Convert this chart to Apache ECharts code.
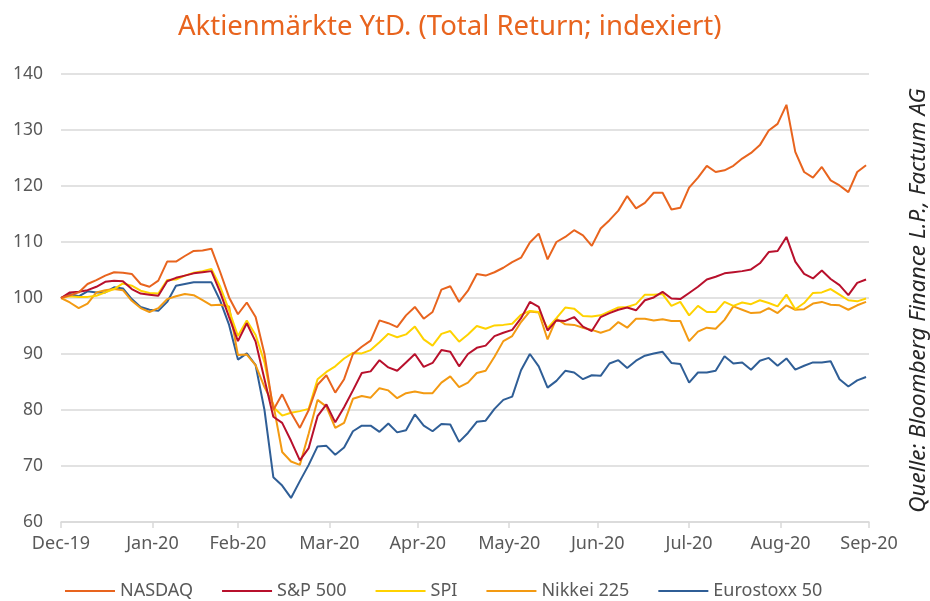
<!DOCTYPE html>
<html>
<head>
<meta charset="utf-8">
<script src="https://cdn.jsdelivr.net/npm/echarts@6/dist/echarts.min.js"></script>
<style>
html,body{margin:0;padding:0;background:#fff;}
#main{width:930px;height:601px;}
</style>
</head>
<body>
<div id="main"></div>
<script>
// x = days after 31 Dec 2019, one reading every 3 days
var monthLabels = ['Dec-19','Jan-20','Feb-20','Mar-20','Apr-20','May-20','Jun-20','Jul-20','Aug-20','Sep-20'];
var monthEndDays = [0, 31, 60, 91, 121, 152, 182, 213, 244, 274];
var stepDays = 3;

var nasdaq = [100,100.5,101,102.5,103.2,104,104.6,104.5,104.3,102.5,102,103.1,106.5,106.5,107.5,108.4,108.5,108.8,104.6,100.1,
  97.1,99.2,96.6,90,80,82.8,79.5,76.8,80,84.5,86.2,83.1,85.5,90,91.3,92.4,96,95.5,94.8,96.9,
  98.4,96.3,97.5,101.5,102.1,99.3,101.3,104.3,104,104.6,105.4,106.4,107.2,109.9,111.5,106.9,110,110.9,112.1,111.2,
  109.3,112.4,113.9,115.6,118.2,116,117,118.8,118.8,115.8,116.1,119.7,121.5,123.6,122.5,122.8,123.6,124.9,125.9,127.3,
  129.9,131.1,134.5,126.1,122.5,121.5,123.4,121,120.1,118.9,122.5,123.7];

var sp500 = [100,101,101.1,101.4,102,102.9,103.1,103,101.6,100.8,100.6,100.4,103,103.6,104,104.4,104.6,104.8,101,96.6,
  92.3,95.5,92.2,85.5,78.8,77.7,74.5,71,73.2,78.9,81,77.8,80.5,83.5,86.6,86.9,88.9,87.6,87,88.5,
  90,87.7,88.4,90.7,90.4,87.8,90,91.1,91.5,93.2,93.8,94.3,96.4,99.3,98.4,94.2,96,95.9,96.6,94.9,
  94.1,96.6,97.3,97.9,98.3,97.8,99.6,100.1,101.1,99.9,99.8,100.9,102,103.3,103.8,104.4,104.6,104.8,105.1,106.2,
  108.2,108.4,110.9,106.5,104.3,103.5,104.9,103.4,102.3,100.5,102.7,103.3];

var spi = [100,100.3,100.2,100.2,100.4,101,101.6,102.6,102.2,101.3,100.9,100.8,103.2,103.3,104,104.5,104.8,105.2,102,97.8,
  93.2,96,93.4,88.5,80.5,79,79.5,79.8,80.2,85.5,86.8,87.8,89.2,90.2,90.1,90.7,92.1,93.6,93,93.5,
  94.9,92.6,91.5,93.6,94.1,92.2,93.5,95,94.5,95.1,95.2,95.4,97,97.7,97.5,94.6,96.4,98.3,98.1,96.8,
  96.7,96.9,97.6,98.3,98.4,98.9,100.6,100.6,100.7,98.6,99.3,96.9,98.6,97.5,97.5,99.3,98.6,99.2,98.9,99.6,
  99.1,98.5,100.6,98,99.1,100.9,101,101.6,100.6,99.6,99.4,99.9];

var nikkei = [100,99.2,98.2,99,101,101.4,101.6,101.4,99.5,98.2,97.5,98.2,99.8,100.3,100.7,100.5,99.6,98.7,98.8,98.5,
  89.8,89.9,88,84.1,81,72.5,70.8,70.2,75.8,81.8,80.6,76.8,77.7,82,82.5,82.2,83.9,83.5,82.1,83,
  83.3,83,83,84.9,86,84.1,84.9,86.6,87,89.5,92.3,93.2,95.7,97.6,97.4,92.6,96.3,95.3,95.2,94.7,
  94.3,93.8,94.3,95.7,94.7,96.3,96.3,96,96.2,95.9,95.9,92.3,94,94.7,94.5,96.1,98.5,97.9,97.3,97.4,
  98.2,97.3,98.7,97.9,98,99,99.3,98.8,98.7,97.9,98.7,99.3];

var eurostoxx = [100,100.7,100.3,101.2,101,101,101.9,101.7,99.8,98.4,97.9,97.7,99.3,102.2,102.5,102.8,102.8,102.8,99.5,95.2,
  89,90.1,88,80,68,66.5,64.3,67.3,70.2,73.5,73.6,72,73.3,76.2,77.2,77.2,76.1,77.6,76,76.4,
  79.2,77.2,76.2,77.5,77.4,74.3,75.9,77.9,78.1,80.2,81.8,82.4,87.1,90,87.8,84,85.2,87,86.7,85.5,
  86.2,86.1,88.3,88.9,87.5,88.8,89.7,90.1,90.4,88.4,88.2,84.9,86.7,86.7,87,89.6,88.3,88.5,87.2,88.8,
  89.3,87.9,89.2,87.2,87.9,88.5,88.5,88.7,85.5,84.2,85.3,85.9];

var seriesNames = ['NASDAQ', 'S&P 500', 'SPI', 'Nikkei 225', 'Eurostoxx 50'];
var seriesValues = [nasdaq, sp500, spi, nikkei, eurostoxx];
var seriesColors = ['#E8641E', '#B8102C', '#FFD200', '#F39A12', '#2F5E96'];

function toPoints(arr) {
  return arr.map(function (v, i) { return [i * stepDays, v]; });
}

var myChart = echarts.init(document.getElementById('main'));
var FONT = 'Noto Sans';

var option = {
  animation: false,
  textStyle: { fontFamily: FONT },
  title: {
    text: 'Aktienmärkte YtD. (Total Return; indexiert)',
    left: 173,
    top: 8,
    textStyle: { color: '#E8641E', fontSize: 27.5, fontWeight: 'normal', fontFamily: FONT }
  },
  grid: { left: 61, right: 61, top: 74, bottom: 79 },
  xAxis: {
    type: 'value',
    min: 0,
    max: 274,
    axisLine: { show: true, lineStyle: { color: '#D9D9D9', width: 1.5 } },
    axisTick: { show: true, customValues: monthEndDays, length: 6, lineStyle: { color: '#D9D9D9', width: 1.5 } },
    axisLabel: {
      customValues: monthEndDays,
      color: '#595959',
      fontSize: 18,
      margin: 13,
      formatter: function (v) { return monthLabels[monthEndDays.indexOf(v)]; }
    },
    splitLine: { show: false }
  },
  yAxis: {
    type: 'value',
    min: 60,
    max: 140,
    interval: 10,
    axisLine: { show: false },
    axisTick: { show: false },
    axisLabel: { color: '#595959', fontSize: 17.5, margin: 18 },
    splitLine: { lineStyle: { color: '#D9D9D9', width: 1.5 } }
  },
  legend: {
    top: 577,
    left: 60,
    icon: 'rect',
    itemWidth: 50,
    itemHeight: 2,
    itemGap: 29,
    textStyle: { color: '#595959', fontSize: 18 },
    data: seriesNames
  },
  graphic: [{
    type: 'text',
    left: 907,
    top: 'middle',
    rotation: Math.PI / 2,
    style: {
      text: 'Quelle: Bloomberg Finance L.P., Factum AG',
      fill: '#262626',
      font: 'italic 22.5px "Noto Sans"'
    }
  }],
  series: seriesNames.map(function (name, k) {
    return {
      name: name,
      type: 'line',
      symbol: 'none',
      data: toPoints(seriesValues[k]),
      lineStyle: { color: seriesColors[k], width: 2 },
      itemStyle: { color: seriesColors[k] },
      z: 10 - k
    };
  })
};
myChart.setOption(option);
</script>
</body>
</html>
